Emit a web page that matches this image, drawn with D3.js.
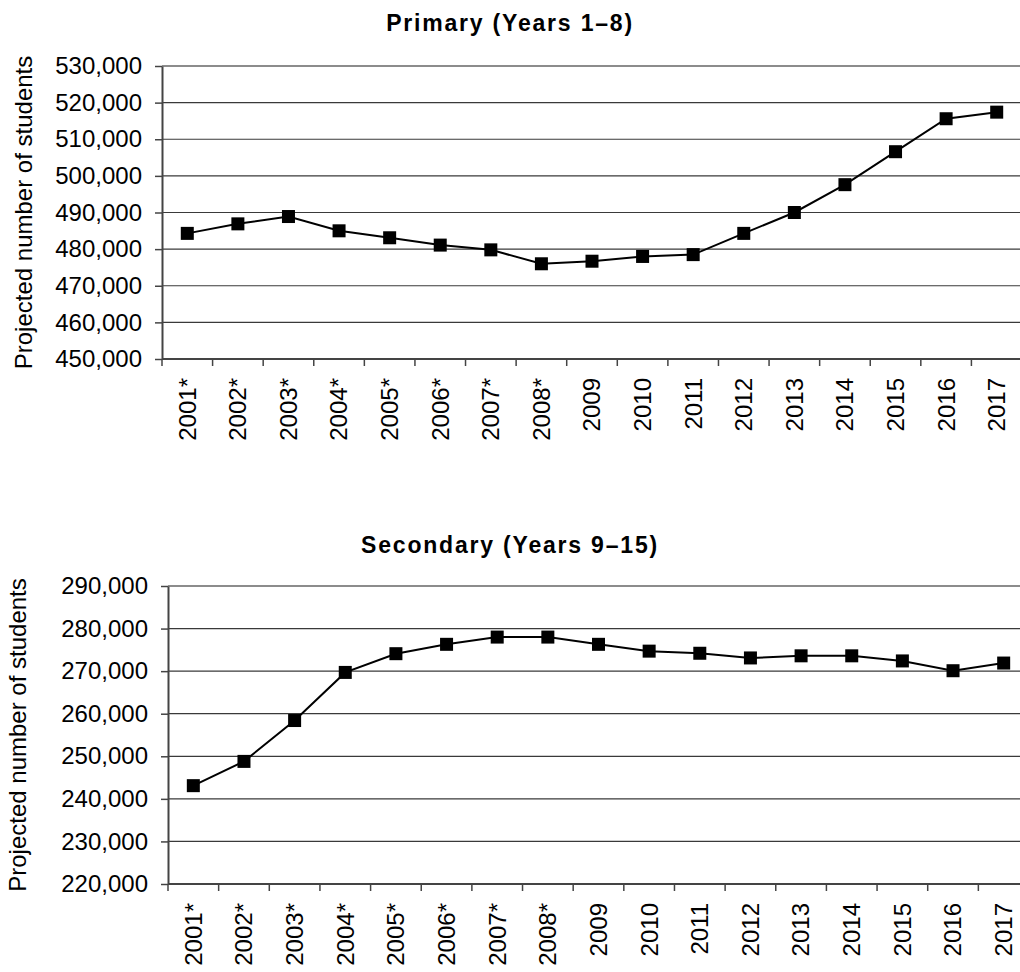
<!DOCTYPE html>
<html>
<head>
<meta charset="utf-8">
<script src="https://cdn.jsdelivr.net/npm/d3@7"></script>
<style>
  body { margin: 0; background: #fff; }
  svg { display: block; font-family: "Liberation Sans", Arial, sans-serif; }
</style>
</head>
<body>
<div id="chart"></div>
<script>
document.addEventListener('DOMContentLoaded', init, false);

var width = 1020;
var height = 972;

var years = ['2001*', '2002*', '2003*', '2004*', '2005*', '2006*', '2007*', '2008*',
  '2009', '2010', '2011', '2012', '2013', '2014', '2015', '2016', '2017'];

var primaryValues = [484300, 486900, 488900, 485000, 483100, 481100, 479800, 476000,
  476700, 478000, 478500, 484300, 490000, 497600, 506600, 515600, 517400];

var secondaryValues = [243100, 248800, 258400, 269700, 274100, 276300, 278000, 278000,
  276300, 274700, 274200, 273100, 273600, 273600, 272400, 270100, 271900];

var primaryTicks = [450000, 460000, 470000, 480000, 490000, 500000, 510000, 520000, 530000];
var secondaryTicks = [220000, 230000, 240000, 250000, 260000, 270000, 280000, 290000];

var yTitle = 'Projected number of students';

function init() {

  var svg = d3.select('#chart')
    .append('svg')
      .attr('width', width)
      .attr('height', height);

  drawPanel(svg, {
    title: 'Primary (Years 1\u20138)',
    titleY: 23,
    values: primaryValues,
    ticks: primaryTicks,
    left: 162, right: 1022, top: 66, bottom: 359,
    yTitleX: 24
  });

  drawPanel(svg, {
    title: 'Secondary (Years 9\u201315)',
    titleY: 545,
    values: secondaryValues,
    ticks: secondaryTicks,
    left: 168, right: 1029, top: 586, bottom: 884,
    yTitleX: 18
  });
}

function drawPanel(svg, p) {

  var x = d3.scaleBand()
    .domain(years)
    .range([p.left, p.right])
    .padding(0);

  var y = d3.scaleLinear()
    .domain([p.ticks[0], p.ticks[p.ticks.length - 1]])
    .range([p.bottom, p.top]);

  var g = svg.append('g');

  // gridlines
  g.append('g')
    .selectAll('line')
    .data(p.ticks.slice(1))
    .enter()
    .append('line')
      .attr('x1', p.left)
      .attr('x2', p.right)
      .attr('y1', function (d) { return y(d); })
      .attr('y2', function (d) { return y(d); })
      .attr('stroke', function (d, i) { return i == p.ticks.length - 2 ? '#8c8c8c' : '#3a3a3a'; })
      .attr('stroke-width', function (d, i) { return i == p.ticks.length - 2 ? 2 : 1.2; });

  // y axis
  var yAxis = g.append('g')
    .attr('transform', 'translate(' + p.left + ',0)')
    .call(d3.axisLeft(y)
      .tickValues(p.ticks)
      .tickFormat(d3.format(','))
      .tickSize(7)
      .tickPadding(13)
      .tickSizeOuter(0));

  yAxis.select('.domain').attr('stroke', '#444').attr('stroke-width', 2);
  yAxis.selectAll('.tick line').attr('stroke', '#444').attr('stroke-width', 1.5);
  yAxis.selectAll('.tick text')
    .attr('fill', '#000')
    .style('font-size', '24px')
    .style('font-family', '"Liberation Sans", Arial, sans-serif');

  // x axis: labels at band centres, ticks on band edges
  var xAxis = g.append('g')
    .attr('transform', 'translate(0,' + p.bottom + ')')
    .call(d3.axisBottom(x).tickSize(0).tickSizeOuter(0));

  xAxis.select('.domain').remove();
  xAxis.selectAll('.tick text')
    .attr('transform', 'rotate(-90)')
    .attr('x', -19)
    .attr('y', 0)
    .attr('dy', '0.35em')
    .attr('fill', '#000')
    .style('text-anchor', 'end')
    .style('font-size', '24px')
    .style('font-family', '"Liberation Sans", Arial, sans-serif');

  var edges = years.map(function (d) { return x(d); }).concat([p.right]);

  g.append('g')
    .selectAll('line')
    .data(edges)
    .enter()
    .append('line')
      .attr('x1', function (d) { return d; })
      .attr('x2', function (d) { return d; })
      .attr('y1', p.bottom)
      .attr('y2', p.bottom + 7)
      .attr('stroke', '#444')
      .attr('stroke-width', 1.5);

  g.append('line')
    .attr('x1', p.left)
    .attr('x2', p.right)
    .attr('y1', p.bottom)
    .attr('y2', p.bottom)
    .attr('stroke', '#444')
    .attr('stroke-width', 2);

  // series line and markers
  var line = d3.line()
    .x(function (d, i) { return x(years[i]) + x.bandwidth() / 2; })
    .y(function (d) { return y(d); });

  g.append('path')
    .datum(p.values)
    .attr('fill', 'none')
    .attr('stroke', '#000')
    .attr('stroke-width', 2)
    .attr('d', line);

  g.append('g')
    .selectAll('rect')
    .data(p.values)
    .enter()
    .append('rect')
      .attr('x', function (d, i) { return x(years[i]) + x.bandwidth() / 2 - 6.5; })
      .attr('y', function (d) { return y(d) - 6.5; })
      .attr('width', 13)
      .attr('height', 13)
      .attr('fill', '#000');

  // titles
  g.append('text')
    .attr('x', 510)
    .attr('y', p.titleY)
    .attr('dy', '0.35em')
    .attr('text-anchor', 'middle')
    .attr('font-weight', 'bold')
    .attr('font-size', 23)
    .attr('letter-spacing', 1.8)
    .text(p.title);

  g.append('text')
    .attr('transform', 'translate(' + p.yTitleX + ',' + ((p.top + p.bottom) / 2) + ') rotate(-90)')
    .attr('dy', '0.35em')
    .attr('text-anchor', 'middle')
    .attr('font-size', 24)
    .text(yTitle);
}
</script>
</body>
</html>
